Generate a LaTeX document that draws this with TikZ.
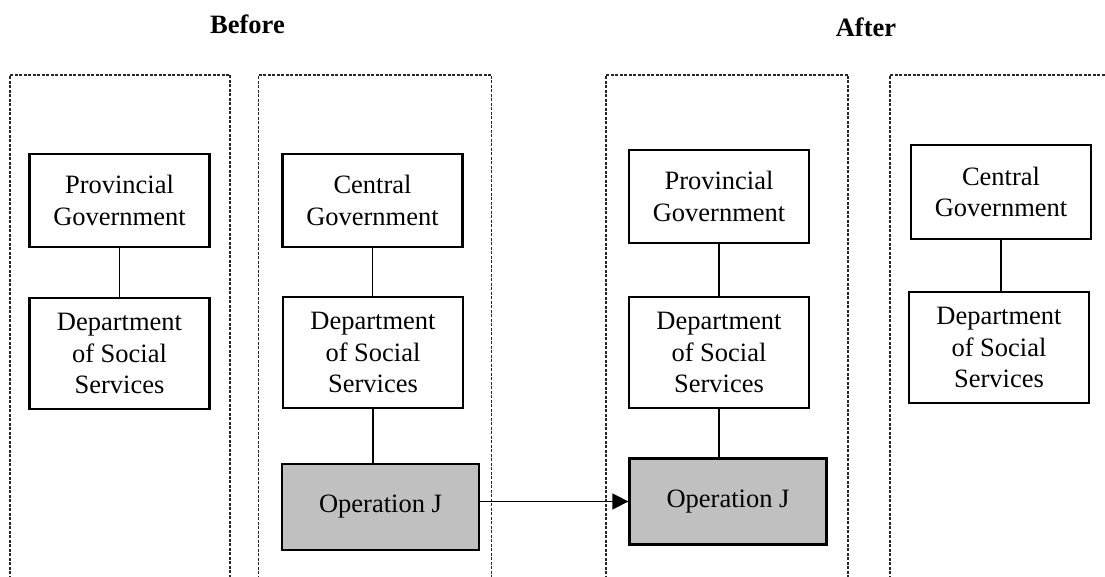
\documentclass[tikz,border=0pt]{standalone}
\usepackage{fontspec}
\setmainfont{Liberation Serif}
\usetikzlibrary{arrows.meta}
\definecolor{opgray}{HTML}{C0C0C0}

\begin{document}
\begin{tikzpicture}[x=1pt, y=1pt,
    panel/.style={draw=black!85, line width=1.1pt, dash pattern=on 3pt off 1.5pt},
    org/.style={draw, line width=2.3pt, align=center, inner sep=0pt,
        minimum width=180pt, font=\fontsize{26.5}{31.5}\selectfont},
    opbox/.style={org, fill=opgray, minimum width=197pt, minimum height=86pt},
    title/.style={font=\bfseries\fontsize{26.5}{31.5}\selectfont},
    link/.style={line width=1.5pt}]
    \useasboundingbox (0,0) rectangle (1105,577);

    \draw[panel] (10,-2) |- (230,502) -- (230,-2);
    \draw[panel] (258.5,-2) |- (491.5,502) -- (491.5,-2);
    \draw[panel] (606,-2) |- (848,502) -- (848,-2);
    \draw[panel] (890,-2) |- (1110,502);

    \node[title] (before) at (247.5,553) {Before};
    \node[title] (after) at (866,550) {After};

    \node[org, minimum height=93pt] (provA) at (119.5,376.5) {Provincial\\Government};
    \node[org, minimum height=111pt] (dssA) at (119.5,223.5) {Department\\of Social\\Services};

    \node[org, minimum height=93pt] (centA) at (372.5,376.5) {Central\\Government};
    \node[org, minimum height=111pt] (dssB) at (373,224.5) {Department\\of Social\\Services};
    \node[opbox] (opA) at (380.5,70) {Operation J};

    \node[org, minimum height=93pt] (provB) at (719,380.5) {Provincial\\Government};
    \node[org, minimum height=111pt] (dssC) at (719,224.5) {Department\\of Social\\Services};
    \node[opbox] (opB) at (728,75.5) {Operation J};

    \node[org, minimum height=94pt] (centB) at (1001,385) {Central\\Government};
    \node[org, minimum height=111pt] (dssD) at (999,229.5) {Department\\of Social\\Services};

    \draw[link] (provA.south) -- (provA.south |- dssA.north);
    \draw[link] (centA.south) -- (centA.south |- dssB.north);
    \draw[link] (dssB.south) -- (dssB.south |- opA.north);
    \draw[link] (provB.south) -- (provB.south |- dssC.north);
    \draw[link] (dssC.south) -- (dssC.south |- opB.north);
    \draw[link] (centB.south) -- (centB.south |- dssD.north);

    \draw[link, -{Triangle[length=16pt, width=16pt]}] (opA.east |- opB.west) -- (opB.west);
\end{tikzpicture}
\end{document}
